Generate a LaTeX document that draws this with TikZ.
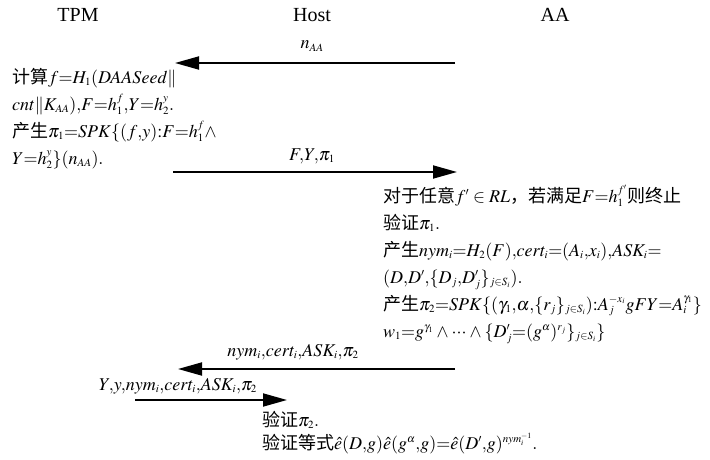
\documentclass[tikz,border=0pt]{standalone}
\usepackage{mathptmx}
\usepackage{fontspec}
\setmainfont{Liberation Serif}
\newfontfamily\cjk{Noto Sans CJK SC}
\usetikzlibrary{arrows.meta}
\newcommand{\zh}[1]{{\cjk #1}}
\thinmuskip=0mu
\medmuskip=3mu
\DeclareMathSizes{18}{18}{11}{8}

\begin{document}
\begin{tikzpicture}[x=1pt,y=-1pt,
    msg/.style={line width=1.8pt,-{Triangle[length=24pt,width=13pt]}},
    txt/.style={anchor=base west,align=left,inner sep=0pt,font=\fontsize{18}{27}\selectfont},
    lbl/.style={inner sep=0pt,font=\fontsize{18}{20}\selectfont},
    party/.style={inner sep=0pt,font=\fontsize{20}{22}\selectfont}]
    \useasboundingbox (0,0) rectangle (710,460);

    % parties
    \node[party] (tpm) at (78,15) {TPM};
    \node[party] (host) at (312,15) {Host};
    \node[party] (aa) at (555,15) {AA};

    % nonce from AA
    \coordinate (aa1) at (455,63);
    \coordinate (tpm1) at (175,63);
    \draw[msg] (aa1) -- (tpm1);
    \node[lbl] (nonce) at (312,46) {$n_{AA}$};

    % TPM computes (anchor = baseline of last line)
    \node[txt] (calc) at (12,164) {\zh{计算}$f{=}H_1(DAASeed\|$\\
        $cnt\|K_{AA}),F{=}h_1^{\,f},Y{=}h_2^{\,y}.$\\
        \zh{产生}$\pi_1{=}SPK\{(f,y){:}F{=}h_1^{\,f}\wedge$\\
        $Y{=}h_2^{\,y}\}(n_{AA}).$};

    % proof to AA
    \coordinate (tpm2) at (173,172);
    \coordinate (aa2) at (457,172);
    \draw[msg] (tpm2) -- (aa2);
    \node[lbl] (proof1) at (312,156) {$F,Y,\pi_1$};

    % AA checks and issues
    \node[txt] (check) at (383,337) {\zh{对于任意}$f'\in RL$\zh{，若满足}$F{=}h_1^{\,f'}$\zh{则终止}\\
        \zh{验证}$\pi_1.$\\
        \zh{产生}$nym_i{=}H_2(F),cert_i{=}(A_i,x_i),ASK_i{=}$\\
        $(D,D',\{D_j,D'_j\}_{j\in S_i}).$\\
        \zh{产生}$\pi_2{=}SPK\{(\gamma_1,\alpha,\{r_j\}_{j\in S_i}){:}A_j^{-x_i}gFY{=}A_i^{\gamma_1}\}$\\
        $w_1{=}g^{\gamma_1}\wedge\cdots\wedge\{D'_j{=}(g^{\alpha})^{r_j}\}_{j\in S_i}\}$};

    % credential back
    \coordinate (aa3) at (455,369);
    \coordinate (tpm3) at (178,369);
    \draw[msg] (aa3) -- (tpm3);
    \node[lbl] (cred) at (293,352) {$nym_i,cert_i,ASK_i,\pi_2$};

    % to host
    \coordinate (tpm4) at (135,400);
    \coordinate (host4) at (287,400);
    \draw[msg] (tpm4) -- (host4);
    \node[lbl] (cred2) at (178,386) {$Y,y,nym_i,cert_i,ASK_i,\pi_2$};

    % host verifies
    \node[txt,font=\fontsize{18}{23}\selectfont] (verify) at (262,449) {\zh{验证}$\pi_2.$\\
        \zh{验证等式}$\hat{e}(D,g)\hat{e}(g^{\alpha},g){=}\hat{e}(D',g)^{nym_i^{-1}}.$};
\end{tikzpicture}
\end{document}
